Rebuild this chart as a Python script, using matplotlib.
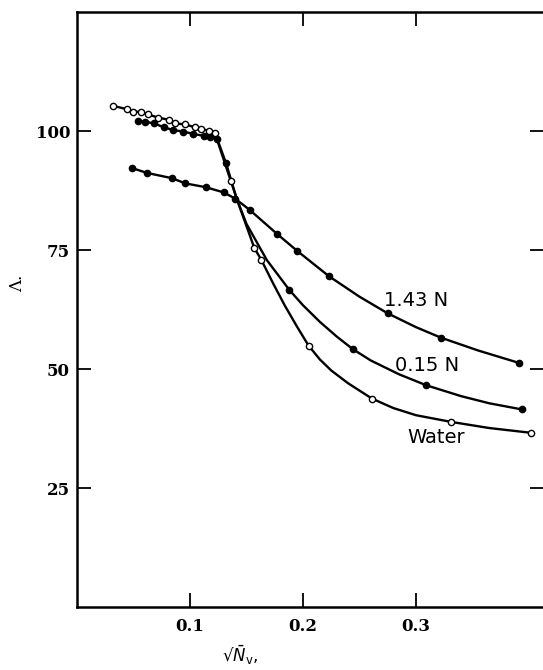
import matplotlib
matplotlib.use("Agg")
import matplotlib.pyplot as plt

# values (sqrt(N) vs equivalent conductance)
water_x = [0.032, 0.044, 0.050, 0.057, 0.063, 0.072, 0.081, 0.087, 0.096, 0.104,
           0.110, 0.117, 0.122, 0.136, 0.157, 0.163, 0.205, 0.261, 0.331, 0.402]
water_y = [105.3, 104.6, 104.1, 104.0, 103.5, 102.8, 102.4, 101.6, 101.4, 100.8,
           100.5, 100.0, 99.6, 89.6, 75.4, 73.0, 54.9, 43.8, 38.9, 36.6]
# extra positions (no marker)
water_trace_x = [0.144, 0.174, 0.184, 0.195, 0.215, 0.225, 0.240, 0.280, 0.300, 0.365]
water_trace_y = [84.0, 67.8, 63.3, 58.8, 52.0, 49.7, 47.0, 41.8, 40.3, 37.6]

n015_x = [0.054, 0.060, 0.068, 0.077, 0.085, 0.094, 0.103, 0.112, 0.118, 0.124,
          0.132, 0.188, 0.244, 0.309, 0.394]
n015_y = [102.2, 102.0, 101.6, 100.8, 100.2, 99.9, 99.4, 99.0, 98.7, 98.4,
          93.2, 66.6, 54.2, 46.6, 41.5]
n015_trace_x = [0.141, 0.150, 0.168, 0.200, 0.215, 0.230, 0.260, 0.285, 0.340, 0.365]
n015_trace_y = [86.0, 80.5, 72.9, 63.4, 59.9, 56.8, 51.8, 48.9, 44.3, 42.8]

n143_x = [0.049, 0.062, 0.084, 0.096, 0.114, 0.130, 0.140, 0.153, 0.177, 0.195,
          0.223, 0.275, 0.322, 0.391]
n143_y = [92.2, 91.2, 90.1, 89.0, 88.2, 87.1, 85.8, 83.4, 78.4, 74.8,
          69.5, 61.7, 56.6, 51.3]
n143_trace_x = [0.250, 0.300, 0.355]
n143_trace_y = [65.2, 58.8, 53.9]

xticks = [0.1, 0.2, 0.3]
yticks = [25, 50, 75, 100]


def curve(xs, ys, tx, ty):
    pts = sorted(zip(list(xs) + list(tx), list(ys) + list(ty)))
    return [p[0] for p in pts], [p[1] for p in pts]


fig = plt.figure(figsize=(5.43, 6.70), dpi=100)
ax = fig.add_axes([0.1418, 0.094, 0.8600, 0.888])

lw = 1.7
cx, cy = curve(water_x, water_y, water_trace_x, water_trace_y)
ax.plot(cx, cy, color="black", lw=lw, zorder=2)
ax.plot(water_x, water_y, "o", ms=4.5, mfc="white", mec="black", mew=1.0, zorder=3)

cx, cy = curve(n015_x, n015_y, n015_trace_x, n015_trace_y)
ax.plot(cx, cy, color="black", lw=lw, zorder=2)
ax.plot(n015_x, n015_y, "o", ms=4.5, color="black", zorder=3)

cx, cy = curve(n143_x, n143_y, n143_trace_x, n143_trace_y)
ax.plot(cx, cy, color="black", lw=lw, zorder=2)
ax.plot(n143_x, n143_y, "o", ms=4.5, color="black", zorder=3)

# curve labels
lab = dict(fontsize=14, family="DejaVu Sans", ha="center", va="center")
ax.text(0.300, 64.5, "1.43 N", **lab)
ax.text(0.310, 50.8, "0.15 N", **lab)
ax.text(0.318, 35.7, "Water", **lab)

ax.set_xlim(0, 0.4133)
ax.set_ylim(0, 125)
ax.set_xticks(xticks)
ax.set_xticklabels(["0.1", "0.2", "0.3"])
ax.set_yticks(yticks)
ax.set_yticklabels([str(v) for v in yticks])
ax.tick_params(direction="in", length=10, width=1.3, top=True, right=True,
               labelsize=12)
ax.tick_params(axis="y", pad=5)
ax.tick_params(axis="x", pad=8)
for t in ax.get_xticklabels() + ax.get_yticklabels():
    t.set_family("DejaVu Serif")
    t.set_fontweight("bold")

for s in ["left", "bottom", "top"]:
    ax.spines[s].set_linewidth(1.8)
ax.spines["right"].set_visible(False)

ax.set_ylabel("Λ.", family="DejaVu Serif", fontsize=12)
ax.yaxis.set_label_coords(-0.108, 0.544)
ax.set_xlabel("√" + r"$\bar{N}_{\mathrm{v}}$,", fontsize=12)
ax.xaxis.set_label_coords(0.35, -0.062)

fig.savefig("out.png", dpi=100)
